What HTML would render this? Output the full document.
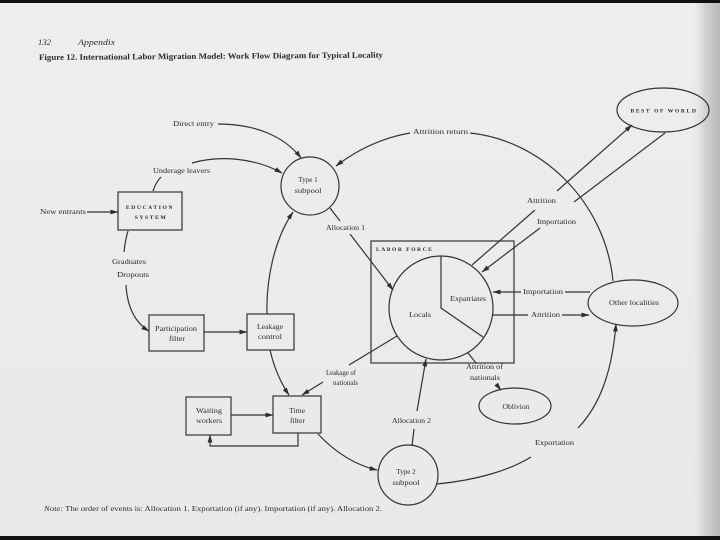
<!DOCTYPE html>
<html>
<head>
<meta charset="utf-8">
<style>
  html, body { margin:0; padding:0; width:720px; height:540px; overflow:hidden; background:#ececea; }
  svg { display:block; }
  text { font-family: "Liberation Serif", "DejaVu Serif", serif; fill:#2a2a2a; }
</style>
</head>
<body>
<svg width="720" height="540" viewBox="0 0 720 540" xmlns="http://www.w3.org/2000/svg">
  <defs>
    <linearGradient id="edge" x1="0" y1="0" x2="1" y2="0">
      <stop offset="0" stop-color="#ececea" stop-opacity="0"/>
      <stop offset="0.5" stop-color="#d2d2d0"/>
      <stop offset="1" stop-color="#b8b8b6"/>
    </linearGradient>
    <linearGradient id="paper" x1="0" y1="0" x2="0" y2="1">
      <stop offset="0" stop-color="#eeeeec"/>
      <stop offset="1" stop-color="#e9e9e7"/>
    </linearGradient>
    <marker id="ah" markerWidth="8" markerHeight="6" refX="7.5" refY="3" orient="auto" markerUnits="userSpaceOnUse">
      <path d="M0,0.6 L8,3 L0,5.4 Z" fill="#2e2e2e"/>
    </marker>
  </defs>

  <!-- paper -->
  <rect x="0" y="0" width="720" height="540" fill="url(#paper)"/>
  <rect x="690" y="0" width="30" height="540" fill="url(#edge)"/>
  <rect x="0" y="0" width="720" height="3" fill="#111"/>
  <rect x="0" y="536" width="720" height="4" fill="#111"/>

  <!-- header -->
  <text x="38" y="45" font-size="8.5" font-style="italic" textLength="13" lengthAdjust="spacingAndGlyphs">132</text>
  <text x="78" y="45" font-size="8.5" font-style="italic" textLength="37" lengthAdjust="spacingAndGlyphs">Appendix</text>
  <text x="39" y="60" font-size="8.3" font-weight="bold" textLength="344" lengthAdjust="spacingAndGlyphs" transform="rotate(-0.4 39 60)">Figure 12. International Labor Migration Model: Work Flow Diagram for Typical Locality</text>

  <g stroke="#333" stroke-width="1.2" fill="none">
    <!-- nodes -->
    <ellipse cx="663" cy="110" rx="46" ry="22"/>
    <ellipse cx="633" cy="303" rx="45" ry="23"/>
    <ellipse cx="515" cy="406" rx="36" ry="18"/>
    <circle cx="310" cy="186" r="29"/>
    <circle cx="408" cy="475" r="30"/>
    <rect x="371" y="241" width="143" height="122"/>
    <circle cx="441" cy="308" r="52"/>
    <path d="M441,256 L441,308 L483,337"/>
    <rect x="118" y="192" width="64" height="38"/>
    <rect x="149" y="315" width="55" height="36"/>
    <rect x="247" y="314" width="47" height="36"/>
    <rect x="186" y="397" width="45" height="38"/>
    <rect x="273" y="396" width="48" height="37"/>

    <!-- connectors -->
    <path d="M410,133 Q370,140 336,166" marker-end="url(#ah)"/>
    <path d="M470,133 C540,140 605,200 613,281"/>
    <path d="M437,484 C478,480 510,470 531,457"/>
    <path d="M578,428 C600,405 612,372 616,324" marker-end="url(#ah)"/>
    <path d="M218,124 C255,124 284,136 301,158" marker-end="url(#ah)"/>
    <path d="M153,191 Q156,182 161,177"/>
    <path d="M192,163 C220,155 255,158 282,173" marker-end="url(#ah)"/>
    <path d="M87,212 L118,212" marker-end="url(#ah)"/>
    <path d="M128,231 Q125,241 124,252"/>
    <path d="M126,285 C127,305 134,322 149,331" marker-end="url(#ah)"/>
    <path d="M204,332 L247,332" marker-end="url(#ah)"/>
    <path d="M267,314 C266,280 274,240 293,212" marker-end="url(#ah)"/>
    <path d="M270,350 Q276,376 289,395" marker-end="url(#ah)"/>
    <path d="M397,336 L349,365"/>
    <path d="M323,382 L302,395" marker-end="url(#ah)"/>
    <path d="M231,415 L273,415" marker-end="url(#ah)"/>
    <path d="M298,433 L298,446 L210,446 L210,435" marker-end="url(#ah)"/>
    <path d="M318,434 C335,452 355,465 377,470" marker-end="url(#ah)"/>
    <path d="M412,446 L414,429"/>
    <path d="M417,411 L426,359" marker-end="url(#ah)"/>
    <path d="M330,208 L340,221"/>
    <path d="M350,234 L393,290" marker-end="url(#ah)"/>
    <path d="M472,265 L535,210"/>
    <path d="M557,191 L632,125" marker-end="url(#ah)"/>
    <path d="M665,133 L574,202"/>
    <path d="M540,228 L482,272" marker-end="url(#ah)"/>
    <path d="M590,292 L565,292"/>
    <path d="M521,292 L493,292" marker-end="url(#ah)"/>
    <path d="M493,315 L528,315"/>
    <path d="M562,315 L589,315" marker-end="url(#ah)"/>
    <path d="M468,353 L476,363"/>
    <path d="M496,384 L501,390" marker-end="url(#ah)"/>
  </g>

  <!-- node labels -->
  <text x="664" y="112.5" font-size="5.6" font-weight="bold" text-anchor="middle" letter-spacing="1.6">BEST OF WORLD</text>
  <text x="634" y="305" font-size="7" text-anchor="middle" textLength="50" lengthAdjust="spacingAndGlyphs">Other localities</text>
  <text x="516" y="409" font-size="7" text-anchor="middle" textLength="27" lengthAdjust="spacingAndGlyphs">Oblivion</text>
  <text x="376" y="251" font-size="5.6" font-weight="bold" letter-spacing="1.5">LABOR FORCE</text>
  <text x="468" y="301" font-size="7" text-anchor="middle" textLength="36" lengthAdjust="spacingAndGlyphs">Expatriates</text>
  <text x="420" y="317" font-size="7" text-anchor="middle" textLength="22" lengthAdjust="spacingAndGlyphs">Locals</text>
  <text x="308" y="182" font-size="7" text-anchor="middle">Type 1</text>
  <text x="308" y="193" font-size="7" text-anchor="middle" textLength="27" lengthAdjust="spacingAndGlyphs">subpool</text>
  <text x="406" y="474" font-size="7" text-anchor="middle">Type 2</text>
  <text x="406" y="485" font-size="7" text-anchor="middle" textLength="27" lengthAdjust="spacingAndGlyphs">subpool</text>
  <text x="150" y="209" font-size="5.6" font-weight="bold" text-anchor="middle" letter-spacing="1.6">EDUCATION</text>
  <text x="151" y="219" font-size="5.6" font-weight="bold" text-anchor="middle" letter-spacing="1.6">SYSTEM</text>
  <text x="155" y="331" font-size="7" textLength="42" lengthAdjust="spacingAndGlyphs">Participation</text>
  <text x="169" y="341" font-size="7" textLength="16" lengthAdjust="spacingAndGlyphs">filter</text>
  <text x="257" y="329" font-size="7" textLength="26" lengthAdjust="spacingAndGlyphs">Leakage</text>
  <text x="258" y="339" font-size="7" textLength="24" lengthAdjust="spacingAndGlyphs">control</text>
  <text x="196" y="413" font-size="7" textLength="26" lengthAdjust="spacingAndGlyphs">Waiting</text>
  <text x="196" y="423" font-size="7" textLength="26" lengthAdjust="spacingAndGlyphs">workers</text>
  <text x="289" y="413" font-size="7" textLength="16" lengthAdjust="spacingAndGlyphs">Time</text>
  <text x="290" y="423" font-size="7" textLength="15" lengthAdjust="spacingAndGlyphs">filter</text>

  <!-- connector labels -->
  <text x="173" y="126" font-size="7" textLength="41" lengthAdjust="spacingAndGlyphs">Direct entry</text>
  <text x="153" y="173" font-size="7" textLength="57" lengthAdjust="spacingAndGlyphs">Underage leavers</text>
  <text x="40" y="214" font-size="7" textLength="46" lengthAdjust="spacingAndGlyphs">New entrants</text>
  <text x="112" y="264" font-size="7" textLength="34" lengthAdjust="spacingAndGlyphs">Graduates</text>
  <text x="117" y="277" font-size="7" textLength="32" lengthAdjust="spacingAndGlyphs">Dropouts</text>
  <text x="413" y="134" font-size="7" textLength="55" lengthAdjust="spacingAndGlyphs">Attrition return</text>
  <text x="527" y="203" font-size="7" textLength="29" lengthAdjust="spacingAndGlyphs">Attrition</text>
  <text x="537" y="224" font-size="7" textLength="39" lengthAdjust="spacingAndGlyphs">Importation</text>
  <text x="523" y="294" font-size="7" textLength="40" lengthAdjust="spacingAndGlyphs">Importation</text>
  <text x="531" y="317" font-size="7" textLength="29" lengthAdjust="spacingAndGlyphs">Attrition</text>
  <text x="326" y="230" font-size="7" textLength="39" lengthAdjust="spacingAndGlyphs">Allocation 1</text>
  <text x="392" y="423" font-size="7" textLength="39" lengthAdjust="spacingAndGlyphs">Allocation 2</text>
  <text x="326" y="375" font-size="7" textLength="30" lengthAdjust="spacingAndGlyphs">Leakage of</text>
  <text x="333" y="385" font-size="7" textLength="25" lengthAdjust="spacingAndGlyphs">nationals</text>
  <text x="466" y="369" font-size="7" textLength="37" lengthAdjust="spacingAndGlyphs">Attrition of</text>
  <text x="470" y="380" font-size="7" textLength="30" lengthAdjust="spacingAndGlyphs">nationals</text>
  <text x="535" y="445" font-size="7" textLength="39" lengthAdjust="spacingAndGlyphs">Exportation</text>

  <!-- note -->
  <text x="44" y="511" font-size="7.3" textLength="338" lengthAdjust="spacingAndGlyphs"><tspan font-style="italic">Note:</tspan>  The order of events is: Allocation 1. Exportation (if any). Importation (if any). Allocation 2.</text>
</svg>
</body>
</html>
